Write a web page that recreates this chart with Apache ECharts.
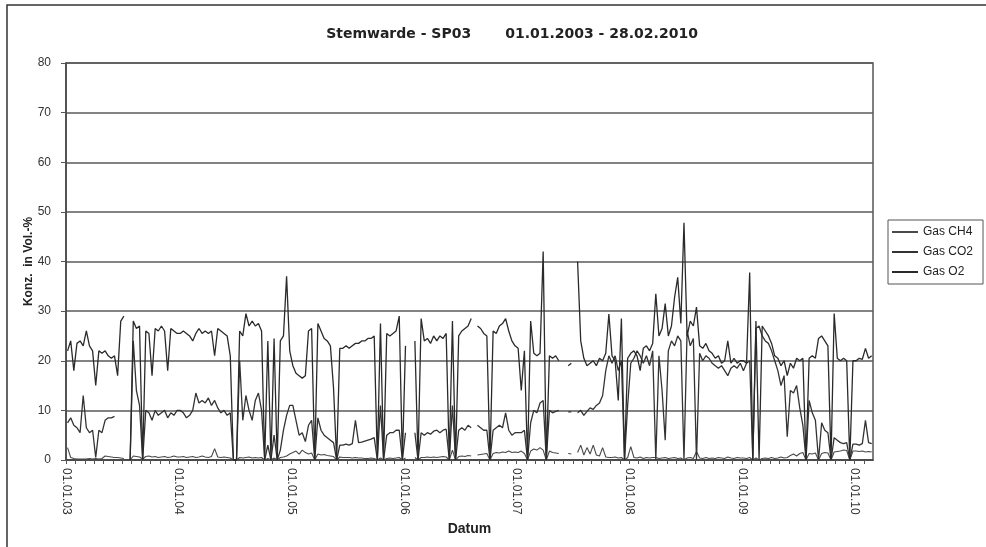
<!DOCTYPE html>
<html><head><meta charset="utf-8">
<script src="https://cdn.jsdelivr.net/npm/echarts@6/dist/echarts.min.js"></script>
<style>html,body{margin:0;padding:0;background:#fff}#c{width:986px;height:547px}</style>
</head><body><div id="c"></div>
<script>
// ---- data (3 readings per month, Jan 2003 .. Feb 2010) ----
const seriesNames = ['Gas CH4', 'Gas CO2', 'Gas O2'];
const xTickLabels = ['01.01.03','01.01.04','01.01.05','01.01.06','01.01.07','01.01.08','01.01.09','01.01.10'];
const yTickValues = [0,10,20,30,40,50,60,70,80];

const o2 = [
 /*2003*/ 22,24,18,23.5,24,23, 26,23,22,15,22,21.5, 22,21,20.5,21,17,28, 29,null,0,28,26.5,27, 0,26,25.5,17,26.5,26, 27,26,18,26.5,26,25.5,
 /*2004*/ 25.5,26,25.5,25,24,25.5, 26.5,25.5,26,25.5,26,21, 26.5,26,25.5,25,21,0, 0,26,25,29.5,27,28, 27,27.5,26,0,24,0, 24.5,0,24,25,37,22,
 /*2005*/ 19,17.5,17,16.5,17,26, 26.5,0,27.5,26,24.5,24, 23,14.5,0,22.5,22.5,23, 22.5,23,23.5,23.5,24,24, 24.5,24.5,25,0,27.5,0, 25.5,25,25.5,26,29,0,
 /*2006*/ 23,null,null,24,0,28.5, 24,24.5,23.5,25,24,25, 24.5,25.5,0,28,0,25, 26,26.5,27,28.5,null,27, 26.5,25.5,25,0,26,25.5, 27,27.5,28.5,26,24,23,
 /*2007*/ 22.5,14,22,0,28,21.5, 21,21.5,42,0,21,20.5, 21,20,null,null,19,19.5, null,40,24,20.5,19,19.5, 20,19,20.5,20,21.5,29.4, 21,20,12,28.5,0,20.5,
 /*2008*/ 21.5,22,21,18,22.5,23, 22,23.5,33.5,25,26.5,31.5, 25,27,32.8,36.8,27.5,47.8, 25,28,27,30.8,23,22.5, 23.5,22,21.5,20.5,21,19.5, 20,24,19.5,20.5,19.5,20,
 /*2009*/ 20,19.5,37.8,0,28,0, 27,26,25,23.5,21,20.5, 19,20,17,19.5,18.5,20.5, 20,20.5,0,20.5,21,20.5, 24.5,25,24,23,0,29.5, 20.5,20,20.5,20,0,20,
 /*2010*/ 20,20.5,20.3,22.5,20.5,21
];
const co2 = [
 /*2003*/ 7.5,8.5,7,6.5,5.5,13, 6.5,5.5,6,0.5,6,5.5, 8,8.5,8.5,8.8,null,null, null,null,0,24,14,11, 0,10,9.5,8,10,9, 9.5,10,8.5,9.5,9,10,
 /*2004*/ 10,9.5,8.5,9,10,13.5, 11.5,12,11.5,12.5,11,12, 10.5,9.5,10,9,9.5,0, 0,20,8,13,10,8, 12,13.5,10,0,3,0, 5,0,2,6,9,11,
 /*2005*/ 11,8,5,5.5,3.7,7, 8,0,8.5,6,5,4.5, 4,3.5,0,3,3,3.2, 3,3.3,8,3.5,3.6,3.8, 4,4.2,4.5,0,11,0, 5,5.5,5.5,6,6,0,
 /*2006*/ 5.5,null,null,5.5,0,5.5, 5,5.5,5.2,5.8,6,5.5, 6,6.2,0,11,0,6, 6.5,6,7,6.5,null,7, 6.5,6,6,0,6,6.5, 7,6.5,9.5,6,5,5.5,
 /*2007*/ 5.5,5.5,6,0,7.5,10, 9.5,11.5,12,0,10,9.5, 9.8,10,null,null,9.7,9.7, null,9.5,10,9,9.8,10.5, 10.2,11,11.5,13,18,21, 19.5,21,18,20,0,11,
 /*2008*/ 19.5,20.5,22,21,19.5,21, 19,22,0,21,14,4, 22,24,23,25,24,0, 26,23,24.5,0,21.5,20, 21,20.5,19.5,19,18.5,19, 18,17,18.5,19,18.5,19.5,
 /*2009*/ 18,19.5,20,0,26.5,27, 25,24,23.5,22,20,18, 15,17,4.7,14,13.5,15, 10.5,7,0,12,9.5,8, 0,7.5,6,5.5,0,4.5, 4,3.5,3.3,3.5,0,3.2,
 /*2010*/ 3.2,3,3.3,8,3.5,3.3
];
const ch4 = [
 /*2003*/ 2.5,0.5,0.3,0.2,0.2,0.2, 0.2,0.3,0.2,0.3,0.2,0.3, 0.8,0.7,0.6,0.5,0.5,0.4, 0.3,null,0,0.8,0.7,0.6, 0.2,0.7,0.8,0.6,0.7,0.5, 0.6,0.7,0.5,0.6,0.8,0.6,
 /*2004*/ 0.6,0.7,0.5,0.6,0.7,0.5, 0.6,0.8,0.6,0.5,0.7,2.3, 0.6,0.5,0.6,0.5,0.4,0, 0,0.5,0.4,0.5,0.6,0.4, 0.5,0.4,0.5,0,0.3,0, 0.4,0,0.5,0.6,0.8,1.2,
 /*2005*/ 1.5,1.8,1.2,2,1.5,1.2, 1.4,0,1.2,1,1.1,0.9, 0.8,0.7,0,0.6,0.5,0.5, 0.5,0.4,0.5,0.4,0.4,0.3, 0.3,0.4,0.3,0,0.4,0, 0.3,0.4,0.3,0.4,0.5,0,
 /*2006*/ 0.4,null,null,0.5,0,0.5, 0.5,0.6,0.5,0.6,0.5,0.6, 0.7,0.6,0,2,0,0.7, 0.8,0.7,0.9,0.8,null,1, 1.1,1.2,1.3,0,1.3,1.5, 1.4,1.6,1.5,1.8,1.5,1.6,
 /*2007*/ 1.5,1.8,1.3,0,1.8,2.2, 2,2.5,2,0,1.8,1.5, 1.4,1.3,null,null,1.3,1.2, null,1.5,3,1,2.5,1.2, 3,1,0.8,2.5,0.6,0.5, 0.5,0.6,0.4,0.5,0,0.5,
 /*2008*/ 2.7,0.5,0.4,0.6,0.3,0.5, 0.4,0.5,0.5,0.3,0.4,0.5, 0.3,0.4,0.5,0.3,0.4,0, 0.4,0.5,0.3,1.7,0.4,0.3, 0.5,0.3,0.4,0.3,0.5,0.4, 0.3,0.6,0.4,0.3,0.5,0.4,
 /*2009*/ 0.4,0.3,0.5,0,0.4,0, 0.3,0.4,0.3,0.5,0.3,0.4, 0.6,0.4,0.5,0.9,1.2,0.8, 1.3,1.5,0,1.3,1.2,1.4, 0,1.3,1.5,1.4,0,1.6, 1.7,1.8,2,1.9,0,1.8,
 /*2010*/ 1.8,1.7,1.8,1.6,1.7,1.6
];

// x position in months since 01.01.2003 (reading i = month*3 + k)
function monthPos(i) { return Math.floor(i / 3) + ((i % 3) + 0.5) / 3; }
function toPairs(arr) { return arr.map((v, i) => [monthPos(i), v]); }

const FONT = "'Liberation Sans', Arial, sans-serif";
const chart = echarts.init(document.getElementById('c'), null, { renderer: 'canvas' });
chart.setOption({
  animation: false,
  backgroundColor: '#fff',
  title: {
    text: '{a|Stemwarde - SP03}{g|}{a|01.01.2003 - 28.02.2010}',
    left: 507, top: 20, textAlign: 'center',
    textStyle: { rich: {
      a: { fontFamily: "'DejaVu Sans', sans-serif", fontSize: 14, fontWeight: 'bold', color: '#222' },
      g: { width: 34 }
    } }
  },
  graphic: [{
    type: 'rect', shape: { x: 7, y: 5, width: 990, height: 560 },
    style: { fill: 'none', stroke: '#333', lineWidth: 1.5 }, silent: true, z: -1
  }],
  legend: {
    orient: 'vertical', left: 888, top: 220,
    data: seriesNames,
    icon: 'rect',
    itemWidth: 26, itemHeight: 2, itemGap: 6,
    padding: [5, 10, 5, 4],
    borderColor: '#555', borderWidth: 1,
    textStyle: { fontFamily: FONT, fontSize: 12, lineHeight: 14, color: '#222' }
  },
  grid: { left: 66, right: 113, top: 63, bottom: 87, show: true, borderColor: '#555', borderWidth: 1.5 },
  xAxis: {
    type: 'value', min: 0, max: 85.97, interval: 1,
    name: 'Datum', nameLocation: 'middle', nameGap: 62, nameMoveOverlap: false,
    nameTextStyle: { fontFamily: FONT, fontSize: 14, fontWeight: 'bold', color: '#222' },
    axisLine: { show: true, lineStyle: { color: '#444', width: 1.5 } },
    axisTick: { show: true, inside: false, length: 4, lineStyle: { color: '#555' } },
    splitLine: { show: false },
    axisLabel: {
      rotate: -90, margin: 8, fontFamily: FONT, fontSize: 12, color: '#333',
      showMaxLabel: false,
      formatter: function (v) {
        const r = Math.round(v);
        return (Math.abs(v - r) < 1e-6 && r % 12 === 0) ? xTickLabels[r / 12] : '';
      }
    }
  },
  yAxis: {
    type: 'value', min: yTickValues[0], max: yTickValues[yTickValues.length - 1], interval: 10,
    name: 'Konz.  in Vol.-%', nameLocation: 'middle', nameGap: 31, nameMoveOverlap: false,
    nameTextStyle: { fontFamily: FONT, fontSize: 12, fontWeight: 'bold', color: '#222' },
    axisLine: { show: true, lineStyle: { color: '#444', width: 1.5 } },
    axisTick: { show: true, inside: false, length: 5, lineStyle: { color: '#555' } },
    splitLine: { show: true, lineStyle: { color: '#5a5a5a', width: 1.5 } },
    axisLabel: { margin: 15, fontFamily: FONT, fontSize: 12, color: '#333' }
  },
  series: [
    { name: seriesNames[0], type: 'line', symbol: 'none', data: toPairs(ch4), connectNulls: false,
      lineStyle: { color: '#4a4a4a', width: 1.1 }, itemStyle: { color: '#4a4a4a' } },
    { name: seriesNames[1], type: 'line', symbol: 'none', data: toPairs(co2), connectNulls: false,
      lineStyle: { color: '#333', width: 1.3 }, itemStyle: { color: '#333' } },
    { name: seriesNames[2], type: 'line', symbol: 'none', data: toPairs(o2), connectNulls: false,
      lineStyle: { color: '#2a2a2a', width: 1.3 }, itemStyle: { color: '#2a2a2a' } }
  ]
});
</script></body></html>
